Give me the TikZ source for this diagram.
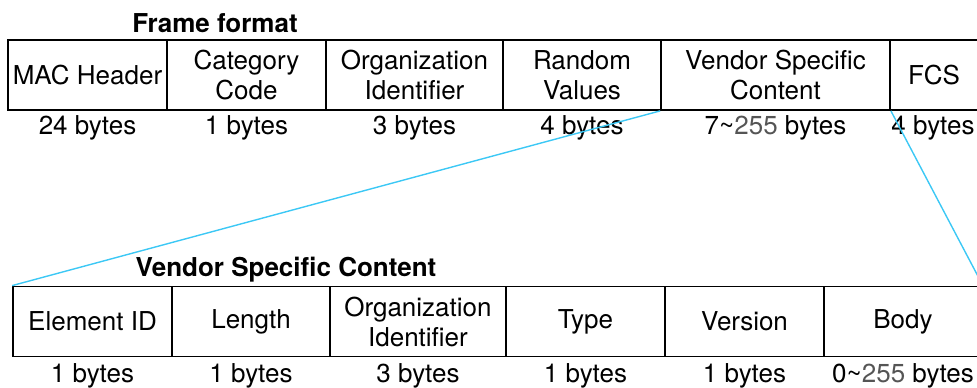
\documentclass[tikz,border=0pt]{standalone}
\usepackage{fontspec}
\setmainfont{TeX Gyre Heros}
\usepackage{tikz}
\definecolor{link}{HTML}{3CC8F5}
\definecolor{numgray}{HTML}{555555}
\tikzstyle{field} = [draw, line width=0.9pt, inner sep=0pt, minimum height=35pt, align=center]
\tikzstyle{size} = []
\tikzstyle{title} = [font=\fontsize{13}{15}\selectfont\bfseries]
\newcommand{\upto}[2]{#1\textasciitilde\textcolor{numgray}{#2}}

\begin{document}
\begin{tikzpicture}[x=0.5pt, y=-0.5pt, font=\fontsize{13}{15}\selectfont]
	  \useasboundingbox (0,0) rectangle (977,387);

	  % outer frame
	  \node (ftitle) at (215,23) [title] {Frame format};
	  \node (mac) at (87.5,75) [field, minimum width=79.5pt] {MAC Header};
	  \node (cat) at (246.5,75) [field, minimum width=79.5pt] {Category\\Code};
	  \node (org) at (414.5,75) [field, minimum width=88.5pt] {Organization\\Identifier};
	  \node (rnd) at (582,75) [field, minimum width=79pt] {Random\\Values};
	  \node (vsc) at (775.5,75) [field, minimum width=114.5pt] {Vendor Specific\\Content};
	  \node (fcs) at (934,75) [field, minimum width=44pt] {FCS};

	  \node (smac) at (87.5,128) [size] {24 bytes};
	  \node (scat) at (246.5,128) [size] {1 bytes};
	  \node (sorg) at (414.5,128) [size] {3 bytes};
	  \node (srnd) at (582,128) [size] {4 bytes};
	  \node (svsc) at (775.5,128) [size] {\upto{7}{255} bytes};
	  \node (sfcs) at (933,128) [size] {4 bytes};

	  % vendor specific content
	  \node (vtitle) at (286,270) [title] {Vendor Specific Content};
	  \node (eid) at (92.5,321.5) [field, minimum width=79.5pt] {Element ID};
	  \node (len) at (251,321.5) [field, minimum width=79pt] {Length};
	  \node (oid) at (418,321.5) [field, minimum width=88pt] {Organization\\Identifier};
	  \node (typ) at (585.5,321.5) [field, minimum width=79.5pt] {Type};
	  \node (ver) at (744.5,321.5) [field, minimum width=79.5pt] {Version};
	  \node (bdy) at (903,321.5) [field, minimum width=79pt] {Body};

	  \node (seid) at (92.5,376) [size] {1 bytes};
	  \node (slen) at (251,376) [size] {1 bytes};
	  \node (soid) at (418,376) [size] {3 bytes};
	  \node (styp) at (585.5,376) [size] {1 bytes};
	  \node (sver) at (744.5,376) [size] {1 bytes};
	  \node (sbdy) at (903,376) [size] {\upto{0}{255} bytes};

	  \draw [link, line width=0.7pt] (vsc.south west) -- (eid.north west);
	  \draw [link, line width=0.7pt] (vsc.south east) -- (bdy.north east);
	\end{tikzpicture}
\end{document}
